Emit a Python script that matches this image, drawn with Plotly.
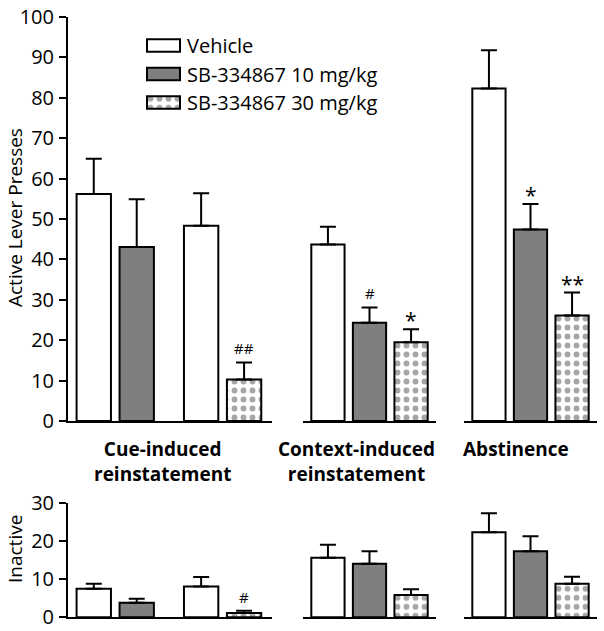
import plotly.graph_objects as go

# ---------------- data ----------------
TREATMENTS = ["Vehicle", "SB-334867 10 mg/kg", "SB-334867 30 mg/kg"]
GROUP_LABELS = ["Cue-induced<br>reinstatement", "Context-induced<br>reinstatement", "Abstinence"]

# treatment index for each bar in each group
cue_treat = [0, 1, 0, 2]
context_treat = [0, 1, 2]
abst_treat = [0, 1, 2]

# Active lever presses (mean, SEM)
active_cue = [56.2, 43.1, 48.3, 10.3]
active_cue_sem = [8.7, 11.8, 8.1, 4.2]
active_context = [43.7, 24.3, 19.5]
active_context_sem = [4.4, 3.8, 3.2]
active_abst = [82.3, 47.4, 26.1]
active_abst_sem = [9.5, 6.3, 5.7]

# Inactive lever presses (mean, SEM)
inactive_cue = [7.5, 3.8, 8.1, 1.1]
inactive_cue_sem = [1.3, 1.1, 2.5, 0.6]
inactive_context = [15.7, 14.1, 5.9]
inactive_context_sem = [3.4, 3.3, 1.5]
inactive_abst = [22.4, 17.4, 8.8]
inactive_abst_sem = [5.0, 3.9, 1.9]

# significance marks
sig_active_cue = ["", "", "", "##"]
sig_active_context = ["", "#", "*"]
sig_active_abst = ["", "*", "**"]
sig_inactive_cue = ["", "", "", "#"]
sig_inactive_context = ["", "", ""]
sig_inactive_abst = ["", "", ""]

ACTIVE_TICKS = [0, 10, 20, 30, 40, 50, 60, 70, 80, 90, 100]
INACTIVE_TICKS = [0, 10, 20, 30]

# ---------------- layout helpers ----------------
W, H = 604, 631
FONT = "Open Sans"


def fx(p):
    return p / W


def fy(p):
    return 1 - p / H


STYLE = {
    0: dict(color="white"),
    1: dict(color="#7f7f7f"),
    2: dict(color="white",
            pattern=dict(shape=".", fgcolor="#a6a6a6", bgcolor="white",
                         size=9, solidity=0.33)),
}

groups = [
    (cue_treat, active_cue, active_cue_sem, inactive_cue, inactive_cue_sem,
     sig_active_cue, sig_inactive_cue, True),
    (context_treat, active_context, active_context_sem, inactive_context,
     inactive_context_sem, sig_active_context, sig_inactive_context, False),
    (abst_treat, active_abst, active_abst_sem, inactive_abst, inactive_abst_sem,
     sig_active_abst, sig_inactive_abst, False),
]

X_DOMAINS = [(68, 272), (303, 436), (464, 597)]
X_RANGES = [(-0.6, 4.15), (-0.6, 2.6), (-0.6, 2.6)]
TOP_DOM = (fy(421), fy(17))
BOT_DOM = (fy(617.3), fy(503.3))

fig = go.Figure()
annotations = []

for gi, (treat, a_m, a_s, i_m, i_s, sig_a, sig_i, paired) in enumerate(groups):
    pos = [i + 0.5 * (i // 2) if paired else i for i in range(len(treat))]
    for panel, (means, sems, sigs) in enumerate([(a_m, a_s, sig_a), (i_m, i_s, sig_i)]):
        ax = gi + 1 + 3 * panel
        xref = "x" if ax == 1 else f"x{ax}"
        yref = "y" if ax == 1 else f"y{ax}"
        for t in range(3):
            idx = [k for k, tt in enumerate(treat) if tt == t]
            if not idx:
                continue
            st = STYLE[t]
            marker = dict(color=st["color"], line=dict(color="black", width=2))
            if "pattern" in st:
                marker["pattern"] = st["pattern"]
            fig.add_trace(go.Bar(
                x=[pos[k] for k in idx],
                y=[means[k] for k in idx],
                width=0.8,
                marker=marker,
                error_y=dict(type="data", symmetric=False,
                             array=[sems[k] for k in idx],
                             arrayminus=[0] * len(idx),
                             color="black", thickness=2, width=8),
                xaxis=xref, yaxis=yref,
                showlegend=False, name=TREATMENTS[t],
            ))
        for k, s in enumerate(sigs):
            if not s:
                continue
            star = "*" in s
            annotations.append(dict(
                x=pos[k], y=means[k] + sems[k], xref=xref, yref=yref,
                text=s, showarrow=False, yanchor="bottom",
                yshift=-7 if star else 2,
                font=dict(family=FONT, size=21 if star else 15, color="black"),
            ))

# axes
for gi in range(3):
    for panel in range(2):
        ax = gi + 1 + 3 * panel
        xname = "xaxis" if ax == 1 else f"xaxis{ax}"
        yname = "yaxis" if ax == 1 else f"yaxis{ax}"
        yanchor = "y" if ax == 1 else f"y{ax}"
        xanchor = "x" if ax == 1 else f"x{ax}"
        d0, d1 = X_DOMAINS[gi]
        fig.layout[xname] = dict(
            domain=[fx(d0), fx(d1)], range=list(X_RANGES[gi]), anchor=yanchor,
            showline=True, linecolor="black", linewidth=2, showticklabels=False,
            ticks="", showgrid=False, zeroline=False, fixedrange=True,
            automargin=False,
        )
        ydict = dict(
            domain=list(TOP_DOM if panel == 0 else BOT_DOM),
            range=[0, 100] if panel == 0 else [0, 30],
            anchor=xanchor, showgrid=False, zeroline=False, fixedrange=True,
            automargin=False,
        )
        if gi == 0:
            ydict.update(
                showline=True, linecolor="black", linewidth=2,
                ticks="outside", ticklen=7, tickwidth=2, tickcolor="black",
                tickmode="array",
                tickvals=ACTIVE_TICKS if panel == 0 else INACTIVE_TICKS,
                tickfont=dict(family=FONT, size=20, color="black"),
                ticklabelstandoff=1, ticklabeloverflow="allow",
            )
        else:
            ydict.update(visible=False)
        fig.layout[yname] = ydict

# legend swatches (own hidden axes)
ROW_H = 28.5
LEG_TOP = 45.5 - ROW_H / 2
LEG_BOT = LEG_TOP + 3 * ROW_H
for t, name in enumerate(TREATMENTS):
    st = STYLE[t]
    marker = dict(color=st["color"], line=dict(color="black", width=2))
    if "pattern" in st:
        marker["pattern"] = st["pattern"]
    fig.add_trace(go.Bar(
        x=[1], y=[t], orientation="h", width=0.43, marker=marker,
        xaxis="x7", yaxis="y7", showlegend=False, name=name, hoverinfo="skip",
    ))
    annotations.append(dict(
        x=fx(185), y=fy(LEG_TOP + ROW_H * (t + 0.5)), xref="paper", yref="paper",
        text=name, showarrow=False, xanchor="left", yanchor="middle",
        font=dict(family=FONT, size=20, color="black"),
    ))
fig.layout["xaxis7"] = dict(domain=[fx(146), fx(181)], range=[-0.03, 1.03],
                            visible=False, anchor="y7", fixedrange=True,
                            automargin=False)
fig.layout["yaxis7"] = dict(domain=[fy(LEG_BOT), fy(LEG_TOP)], range=[2.5, -0.5],
                            visible=False, anchor="x7", fixedrange=True,
                            automargin=False)

# group labels
for gx, lab in zip([162, 356, 516], GROUP_LABELS):
    annotations.append(dict(
        x=fx(gx), y=fy(434), xref="paper", yref="paper", text=f"<b>{lab}</b>",
        showarrow=False, xanchor="center", yanchor="top",
        font=dict(family=FONT, size=19, color="black"),
    ))

# y-axis titles
annotations.append(dict(
    x=fx(15), y=fy(218), xref="paper", yref="paper", text="Active Lever Presses",
    textangle=-90, showarrow=False, xanchor="center", yanchor="middle",
    font=dict(family=FONT, size=19, color="black"),
))
annotations.append(dict(
    x=fx(15), y=fy(549), xref="paper", yref="paper", text="Inactive",
    textangle=-90, showarrow=False, xanchor="center", yanchor="middle",
    font=dict(family=FONT, size=19, color="black"),
))

fig.update_layout(
    template="none",
    width=W, height=H,
    margin=dict(l=0, r=0, t=0, b=0, pad=0),
    paper_bgcolor="white", plot_bgcolor="white",
    barmode="overlay", showlegend=False,
    annotations=annotations,
    font=dict(family=FONT, color="black"),
)

# remove the browser's default page margin so the figure fills the window
fig.write_html("out.html",
               config={"displayModeBar": False, "staticPlot": True},
               post_script="document.body.style.margin='0';"
                           "document.body.style.overflow='hidden';")
